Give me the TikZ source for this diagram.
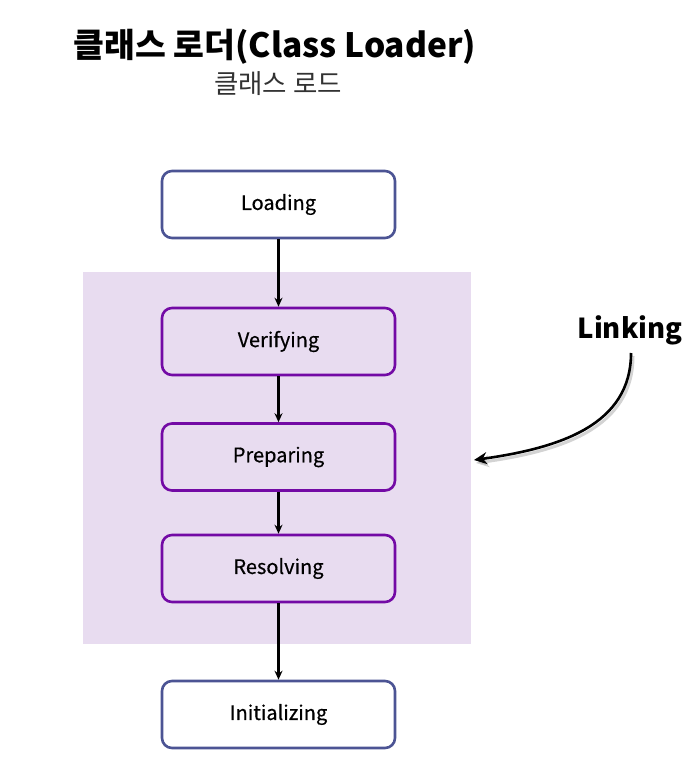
\documentclass[tikz,border=0pt]{standalone}
\usepackage{fontspec}
\setmainfont{Noto Sans CJK KR}
\newfontfamily\boxfont{Noto Sans CJK KR}[FakeBold=0.5]
\usetikzlibrary{arrows.meta}
\definecolor{bluebord}{RGB}{76,84,148}
\definecolor{purpbord}{RGB}{115,10,165}
\definecolor{linkbg}{RGB}{232,220,240}
\definecolor{subgray}{RGB}{50,50,50}
\tikzset{
  stagebox/.style={draw, rounded corners=10pt, line width=2.6pt, minimum width=233pt, minimum height=67pt, inner sep=0pt, font=\boxfont\fontsize{20}{24}\selectfont},
  outerstage/.style={stagebox, draw=bluebord, fill=white},
  innerstage/.style={stagebox, draw=purpbord, fill=linkbg},
  flow/.style={-{Stealth[length=9pt,width=8pt]}, line width=2.2pt, black},
}
\begin{document}
\begin{tikzpicture}[x=1pt,y=-1pt]
\useasboundingbox (0,0) rectangle (696,773);
\fill[linkbg] (83,272) rectangle (471,644);
\node[font=\bfseries\fontsize{33.5}{38}\selectfont] (title) at (275,47) {클래스 로더(Class Loader)};
\node[font=\fontsize{26.5}{30}\selectfont, text=subgray] (sub) at (278,84) {클래스 로드};
\node[outerstage] (load) at (278.5,204.5) {Loading};
\node[innerstage] (ver) at (278.5,341.5) {Verifying};
\node[innerstage] (prep) at (278.5,457) {Preparing};
\node[innerstage] (res) at (278.5,568.5) {Resolving};
\node[outerstage] (init) at (278.5,714.5) {Initializing};
\draw[flow] (load) -- (ver);
\draw[flow] (ver) -- (prep);
\draw[flow] (prep) -- (res);
\draw[flow] (res) -- (init);
\node[font=\bfseries\fontsize{27.5}{31}\selectfont, anchor=center] (link) at (630,330) {Linking};
\coordinate (tip) at (474,460);
\coordinate (start) at (631,353);
\draw[line width=3pt, gray, opacity=0.35, -{Stealth[length=13pt,width=12pt]}] ([shift={(2,3)}]start) .. controls ([shift={(2,3)}]631,425) and ([shift={(2,3)}]560,448) .. ([shift={(2,3)}]tip);
\draw[line width=2.6pt, black, -{Stealth[length=13pt,width=12pt]}] (start) .. controls (631,425) and (560,448) .. (tip);
\end{tikzpicture}
\end{document}
